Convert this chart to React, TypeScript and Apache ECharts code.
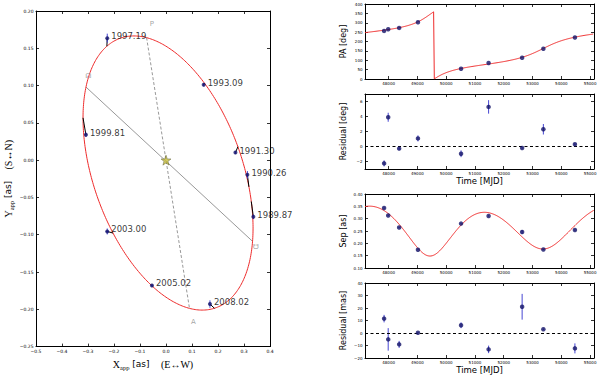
import React, { useEffect, useRef } from 'react';
import * as echarts from 'echarts';

// ---------------- data ----------------
const EPOCHS = ['1989.87', '1990.26', '1991.30', '1993.09', '1997.19', '1999.81', '2003.00', '2005.02', '2008.02'];
const MJD = [47843, 47986, 48366, 49020, 50517, 51474, 52639, 53377, 54473];
const X_OBS = [0.336, 0.313, 0.267, 0.145, -0.226, -0.308, -0.226, -0.054, 0.169];
const Y_OBS = [-0.076, -0.0196, 0.0102, 0.101, 0.1636, 0.034, -0.0956, -0.168, -0.193];
const X_ERR = [0.002, 0.003, 0.002, 0.002, 0.002, 0.002, 0.006, 0.002, 0.002];
const Y_ERR = [0.003, 0.005, 0.002, 0.002, 0.006, 0.003, 0.004, 0.002, 0.005];
const PA_OBS = [256.5, 265.5, 272.4, 302.7, 54.7, 85, 113, 161, 221];
const PA_RES = [-2.25, 3.9, -0.28, 1.08, -0.97, 5.28, -0.2, 2.3, 0.3];
const PA_RES_ERR = [0.4, 0.6, 0.2, 0.4, 0.45, 0.9, 0.1, 0.7, 0.15];
const SEP_OBS = [0.343, 0.313, 0.264, 0.174, 0.28, 0.311, 0.246, 0.175, 0.254];
const SEP_ERR = [0.003, 0.003, 0.002, 0.002, 0.002, 0.002, 0.008, 0.002, 0.003];
const SEP_RES = [11.5, -5.1, -9.1, 0.2, 6.2, -13.1, 21, 3, -12.3];
const SEP_RES_ERR = [3, 9, 2.8, 0.6, 2.3, 3, 10.3, 0.5, 4];

const STAR = [0, 0];
const NODE_LINE = [[-0.3077, 0.098], [0.3333, -0.109]];
const MARK_LABELS = [
  { name: 'P', value: [-0.054, 0.183] },
  { name: 'A', value: [0.105, -0.217] },
  { name: '\u260A', value: [-0.299, 0.113] },
  { name: '\u260B', value: [0.346, -0.116] },
];

// orbit model (fitted elements)
const ORBIT_T0 = 49859; // MJD of periastron
const ORBIT_PERIOD = 8298; // days
const ORBIT_ECC = 0.095;
const ORBIT_U = [-0.0825, 0.1815]; // centre -> periastron (as)
const ORBIT_V = [-0.3164, 0.029]; // conjugate semi-diameter (as)
const TIME_MIN = 47180;
const TIME_MAX = 55136;
const TIME_TICKS = [48000, 49000, 50000, 51000, 52000, 53000, 54000, 55000];

function orbitPosE(E: number): [number, number] {
  const c = Math.cos(E) - ORBIT_ECC;
  const s = Math.sin(E);
  return [c * ORBIT_U[0] + s * ORBIT_V[0], c * ORBIT_U[1] + s * ORBIT_V[1]];
}
function orbitPosT(t: number): [number, number] {
  let M = (2 * Math.PI * (t - ORBIT_T0)) / ORBIT_PERIOD;
  M = ((M % (2 * Math.PI)) + 2 * Math.PI) % (2 * Math.PI);
  let E = M;
  for (let i = 0; i < 30; i++) E = E - (E - ORBIT_ECC * Math.sin(E) - M) / (1 - ORBIT_ECC * Math.cos(E));
  return orbitPosE(E);
}
const posAngle = (p: number[]) => {
  let a = (Math.atan2(-p[0], p[1]) * 180) / Math.PI;
  if (a < 0) a += 360;
  return a;
};
const separation = (p: number[]) => Math.hypot(p[0], p[1]);

// ---------------- styles ----------------
const RED = '#ee2b2b';
const PT = '#111168';
const ERR = '#4646d2';
const GRAY = '#8c8c8c';
const SANS = 'DejaVu Sans';
const SERIF = 'Liberation Serif';

const minus = (s: string) => s.replace('-', '\u2212');
const fmt = (d: number) => (v: number) => (Math.abs(v) < 1e-9 ? (0).toFixed(d) : minus(v.toFixed(d)));

function xAxisPair(grid: number, min: number, max: number, o: any) {
  const tickCfg = o.ticks ? { customValues: o.ticks } : {};
  const base = {
    type: 'value', gridIndex: grid, min, max, interval: o.interval,
    splitLine: { show: false },
    axisLine: { show: true, onZero: false, lineStyle: { color: '#000', width: 1 } },
  };
  return [
    {
      ...base, position: 'bottom',
      axisTick: { show: true, inside: true, length: 3, lineStyle: { color: '#000', width: 0.8 }, ...tickCfg },
      axisLabel: { show: true, margin: 2.5, fontSize: o.fs || 4.5, color: '#000', fontFamily: SANS, formatter: o.fmt, ...tickCfg },
      name: o.name, nameLocation: 'middle', nameGap: o.nameGap, nameTextStyle: o.nameStyle,
    },
    {
      ...base, position: 'top',
      axisTick: { show: true, inside: true, length: 3, lineStyle: { color: '#000', width: 0.8 }, ...tickCfg },
      axisLabel: { show: false, ...tickCfg },
    },
  ];
}
function yAxisPair(grid: number, min: number, max: number, o: any) {
  const tickCfg = o.ticks ? { customValues: o.ticks } : {};
  const base = {
    type: 'value', gridIndex: grid, min, max, interval: o.interval,
    splitLine: { show: false },
    axisLine: { show: true, onZero: false, lineStyle: { color: '#000', width: 1 } },
  };
  return [
    {
      ...base, position: 'left',
      axisTick: { show: true, inside: true, length: 3, lineStyle: { color: '#000', width: 0.8 }, ...tickCfg },
      axisLabel: { show: true, margin: 2.5, fontSize: o.fs || 4.5, color: '#000', fontFamily: SANS, formatter: o.fmt, ...tickCfg },
      name: o.name, nameLocation: 'middle', nameRotate: 90, nameGap: o.nameGap, nameTextStyle: o.nameStyle,
    },
    {
      ...base, position: 'right',
      axisTick: { show: true, inside: true, length: 3, lineStyle: { color: '#000', width: 0.8 }, ...tickCfg },
      axisLabel: { show: false, ...tickCfg },
    },
  ];
}

function errorBars(grid: number, data: number[][], color: string) {
  return {
    type: 'custom', xAxisIndex: grid * 2, yAxisIndex: grid * 2, data, silent: true, z: 3,
    renderItem: (_p: any, api: any) => {
      const x = api.value(0), y = api.value(1), ex = api.value(2), ey = api.value(3);
      const kids: any[] = [];
      if (ey > 0) {
        const a = api.coord([x, y - ey]), b = api.coord([x, y + ey]);
        kids.push({ type: 'line', shape: { x1: a[0], y1: a[1], x2: b[0], y2: b[1] }, style: { stroke: color, lineWidth: 1 } });
      }
      if (ex > 0) {
        const a = api.coord([x - ex, y]), b = api.coord([x + ex, y]);
        kids.push({ type: 'line', shape: { x1: a[0], y1: a[1], x2: b[0], y2: b[1] }, style: { stroke: color, lineWidth: 1 } });
      }
      return { type: 'group', children: kids };
    },
  };
}
function points(grid: number, data: any[], extra: any = {}) {
  return {
    type: 'scatter', xAxisIndex: grid * 2, yAxisIndex: grid * 2, data, symbol: 'circle', symbolSize: 4.5,
    itemStyle: { color: PT }, z: 5, ...extra,
  };
}
function modelLine(grid: number, data: number[][]) {
  return {
    type: 'line', xAxisIndex: grid * 2, yAxisIndex: grid * 2, data, showSymbol: false, symbol: 'none',
    lineStyle: { color: RED, width: 1 }, z: 2, silent: true,
  };
}
const zeroLine = {
  silent: true, symbol: ['none', 'none'], data: [{ yAxis: 0 }], label: { show: false },
  lineStyle: { color: '#000', type: [3, 2.5], width: 1 },
};

function buildOption() {
  const ellipse: number[][] = [];
  for (let i = 0; i <= 360; i++) ellipse.push(orbitPosE((i * 2 * Math.PI) / 360));
  const paCurve: number[][] = [];
  const sepCurve: number[][] = [];
  for (let t = TIME_MIN; t <= TIME_MAX; t += 8) {
    const p = orbitPosT(t);
    paCurve.push([t, posAngle(p)]);
    sepCurve.push([t, separation(p)]);
  }
  const apsides = [orbitPosE(0), orbitPosE(Math.PI)];
  const connectors = MJD.map((t, i) => {
    const m = orbitPosT(t);
    return [X_OBS[i], Y_OBS[i], m[0], m[1]];
  });

  const subName = (a: string, sub: string, unit: string, paren: string) =>
    `{m|${a}}{s|${sub}}{u| ${unit}    }{m|${paren}}`;
  const nameRich = {
    m: { fontFamily: SERIF, fontSize: 10, lineHeight: 14, color: '#000' },
    s: { fontFamily: SERIF, fontSize: 6.5, lineHeight: 8, verticalAlign: 'bottom', color: '#000' },
    u: { fontFamily: SANS, fontSize: 9, lineHeight: 14, color: '#000' },
  };
  const rName = { fontFamily: SANS, fontSize: 8, color: '#000' };

  const xAxis = [
    ...xAxisPair(0, -0.5, 0.4, { interval: 0.1, fmt: fmt(1), name: subName('X', 'app', '[as]', '(E\u2194W)'), nameGap: 9, nameStyle: { rich: nameRich } }),
    ...xAxisPair(1, TIME_MIN, TIME_MAX, { ticks: TIME_TICKS, fmt: (v: number) => String(v), fs: 4 }),
    ...xAxisPair(2, TIME_MIN, TIME_MAX, { ticks: TIME_TICKS, fmt: (v: number) => String(v), fs: 4, name: 'Time [MJD]', nameGap: 7, nameStyle: { fontFamily: SANS, fontSize: 8.5, color: '#000' } }),
    ...xAxisPair(3, TIME_MIN, TIME_MAX, { ticks: TIME_TICKS, fmt: (v: number) => String(v), fs: 4 }),
    ...xAxisPair(4, TIME_MIN, TIME_MAX, { ticks: TIME_TICKS, fmt: (v: number) => String(v), fs: 4, name: 'Time [MJD]', nameGap: 7, nameStyle: { fontFamily: SANS, fontSize: 8.5, color: '#000' } }),
  ];
  const yAxis = [
    ...yAxisPair(0, -0.25, 0.2, { interval: 0.05, fmt: fmt(2), name: subName('Y', 'app', '[as]', '(S\u2194N)'), nameGap: 21, nameStyle: { rich: nameRich } }),
    ...yAxisPair(1, 0, 400, { interval: 50, fmt: (v: number) => String(v), fs: 4, name: 'PA [deg]', nameGap: 18, nameStyle: rName }),
    ...yAxisPair(2, -3, 7, { ticks: [-2, 0, 2, 4, 6], fmt: fmt(0), fs: 4, name: 'Residual [deg]', nameGap: 18, nameStyle: rName }),
    ...yAxisPair(3, 0.1, 0.4, { interval: 0.05, fmt: fmt(2), fs: 4, name: 'Sep [as]', nameGap: 18, nameStyle: rName }),
    ...yAxisPair(4, -20, 40, { interval: 10, fmt: fmt(0), fs: 4, name: 'Residual [mas]', nameGap: 18, nameStyle: rName }),
  ];

  const series: any[] = [
    modelLine(0, ellipse),
    {
      type: 'line', xAxisIndex: 0, yAxisIndex: 0, data: NODE_LINE, showSymbol: false, symbol: 'none', silent: true,
      lineStyle: { color: GRAY, width: 0.9 }, z: 1,
    },
    {
      type: 'line', xAxisIndex: 0, yAxisIndex: 0, data: apsides, showSymbol: false, symbol: 'none', silent: true,
      lineStyle: { color: GRAY, width: 0.9, type: [3, 2] }, z: 1,
    },
    {
      type: 'custom', xAxisIndex: 0, yAxisIndex: 0, data: connectors, silent: true, z: 3,
      renderItem: (_p: any, api: any) => {
        const a = api.coord([api.value(0), api.value(1)]);
        const b = api.coord([api.value(2), api.value(3)]);
        return { type: 'line', shape: { x1: a[0], y1: a[1], x2: b[0], y2: b[1] }, style: { stroke: '#000', lineWidth: 1 } };
      },
    },
    errorBars(0, X_OBS.map((x, i) => [x, Y_OBS[i], X_ERR[i], Y_ERR[i]]), ERR),
    points(0, EPOCHS.map((e, i) => ({ name: e, value: [X_OBS[i], Y_OBS[i]] })), {
      symbolSize: 4,
      label: {
        show: true, position: 'right', distance: 2, offset: [0, -2], formatter: '{b}',
        fontFamily: SANS, fontSize: 8.5, color: '#000',
      },
    }),
    {
      type: 'scatter', xAxisIndex: 0, yAxisIndex: 0, data: [STAR], silent: true, z: 6,
      symbol: 'path://M0,-10 L2.35,-3.24 L9.51,-3.09 L3.8,1.24 L5.88,8.09 L0,4 L-5.88,8.09 L-3.8,1.24 L-9.51,-3.09 L-2.35,-3.24 Z',
      symbolSize: 10, itemStyle: { color: '#c4bc3c', borderColor: '#5a5a30', borderWidth: 0.6 },
    },
    {
      type: 'scatter', xAxisIndex: 0, yAxisIndex: 0, data: MARK_LABELS, silent: true, symbolSize: 0, z: 6,
      label: { show: true, position: 'inside', formatter: '{b}', fontFamily: SANS, fontSize: 7, color: GRAY },
    },

    modelLine(1, paCurve),
    points(1, MJD.map((t, i) => [t, PA_OBS[i]])),

    errorBars(2, MJD.map((t, i) => [t, PA_RES[i], 0, PA_RES_ERR[i]]), ERR),
    points(2, MJD.map((t, i) => [t, PA_RES[i]]), { markLine: zeroLine }),

    modelLine(3, sepCurve),
    errorBars(3, MJD.map((t, i) => [t, SEP_OBS[i], 0, SEP_ERR[i]]), ERR),
    points(3, MJD.map((t, i) => [t, SEP_OBS[i]])),

    errorBars(4, MJD.map((t, i) => [t, SEP_RES[i], 0, SEP_RES_ERR[i]]), ERR),
    points(4, MJD.map((t, i) => [t, SEP_RES[i]]), { markLine: zeroLine }),
  ];

  return {
    animation: false,
    backgroundColor: '#fff',
    grid: [
      { left: 36, top: 11, width: 234, height: 337 },
      { left: 365, top: 4, width: 229, height: 75 },
      { left: 365, top: 94, width: 229, height: 75 },
      { left: 365, top: 194, width: 229, height: 74 },
      { left: 365, top: 283, width: 229, height: 75 },
    ],
    xAxis,
    yAxis,
    series,
  };
}

export default function App() {
  const ref = useRef<HTMLDivElement>(null);
  useEffect(() => {
    if (!ref.current) return;
    const chart = echarts.init(ref.current, undefined, { renderer: 'svg' });
    chart.setOption(buildOption() as any);
    return () => chart.dispose();
  }, []);
  return <div ref={ref} style={{ position: 'fixed', left: 0, top: 0, width: 600, height: 376, background: '#fff' }} />;
}
